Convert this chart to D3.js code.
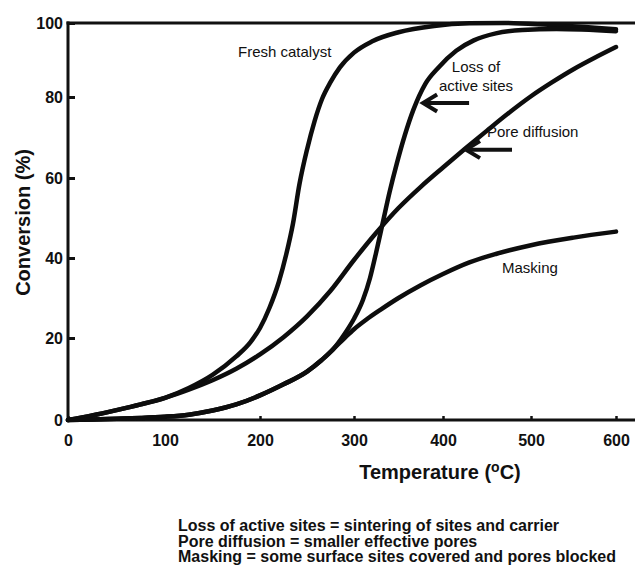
<!DOCTYPE html>
<html>
<head>
<meta charset="utf-8">
<script src="https://cdn.jsdelivr.net/npm/d3@7"></script>
<style>
  html, body { margin: 0; padding: 0; background: #fff; }
  svg { display: block; }
  text { font-family: "Liberation Sans", Arial, Helvetica, sans-serif; fill: #111; }
</style>
</head>
<body>
<svg id="chart" width="635" height="565"></svg>
<script>
// Axis ticks
const xTicks = [0, 100, 200, 300, 400, 500, 600];
const yTicks = [0, 20, 40, 60, 80, 100];

// Conversion (%) vs temperature (°C) for each catalyst state
const freshTemp = [0, 25, 50, 75, 100, 125, 150, 175, 190, 200, 210, 220, 228, 235, 242, 250, 258, 266, 275, 285, 300, 320, 350, 390, 430, 470, 520, 600];
const freshConv = [0, 1.1, 2.4, 3.8, 5.4, 7.8, 11, 15.5, 19, 22.5, 27.5, 34, 41, 48.5, 58.5, 67, 74, 79.5, 84, 88, 92, 95, 97.5, 99.2, 99.9, 100, 99.5, 98.3];

const lossTemp = [0, 25, 50, 75, 100, 125, 150, 175, 200, 225, 250, 265, 278, 290, 300, 310, 318, 325, 332, 340, 348, 357, 367, 380, 395, 415, 435, 460, 490, 530, 600];
const lossConv = [0, 0.1, 0.3, 0.5, 0.8, 1.3, 2.3, 3.8, 6, 8.7, 11.8, 14.5, 17.3, 21, 24.8, 29.5, 35, 41.5, 48.5, 56.5, 63.5, 70.5, 77, 83.5, 88, 92.5, 95.3, 97.2, 98.1, 98.4, 97.8];

const poreTemp = [0, 25, 50, 75, 100, 125, 150, 175, 200, 225, 250, 275, 300, 325, 350, 375, 400, 425, 450, 475, 500, 525, 550, 575, 600];
const poreConv = [0, 1.1, 2.4, 3.8, 5.4, 7.4, 9.7, 12.5, 16, 20.2, 25.4, 31.8, 39.5, 46.3, 52.5, 57.8, 62.6, 67.2, 71.7, 76.1, 80.2, 84, 87.5, 90.6, 93.5];

const maskTemp = [0, 25, 50, 75, 100, 125, 150, 175, 200, 225, 250, 265, 278, 290, 300, 315, 330, 350, 375, 400, 430, 460, 500, 550, 600];
const maskConv = [0, 0.1, 0.3, 0.5, 0.8, 1.3, 2.3, 3.8, 6, 8.7, 11.8, 14.5, 17.3, 20, 22.2, 24.8, 27.1, 30, 33.2, 36, 38.9, 41, 43.2, 45.1, 46.6];

const seriesNames = ["Fresh catalyst", "Loss of active sites", "Pore diffusion", "Masking"];

const notes = [
  "Loss of active sites = sintering of sites and carrier",
  "Pore diffusion = smaller effective pores",
  "Masking = some surface sites covered and pores blocked"
];

const series = [
  { name: seriesNames[0], temp: freshTemp, conv: freshConv },
  { name: seriesNames[1], temp: lossTemp, conv: lossConv },
  { name: seriesNames[2], temp: poreTemp, conv: poreConv },
  { name: seriesNames[3], temp: maskTemp, conv: maskConv }
];

const svg = d3.select("#chart");
const W = 635;

// The printed axes are slightly uneven, so the scales are piecewise linear through the ticks
const x = d3.scaleLinear().domain(xTicks).range([68, 165, 260, 354, 443, 531, 616]);
const y = d3.scaleLinear().domain(yTicks).range([420, 338, 258, 178, 97, 23]);

const x0 = x(0), y0 = y(0), yTop = y(100);

// Y axis with inward ticks
const yAxis = svg.append("g")
  .attr("transform", `translate(${x0},0)`)
  .call(d3.axisLeft(y).tickValues(yTicks).tickSizeInner(-7).tickSizeOuter(0).tickPadding(5).tickFormat(d3.format("d")));
yAxis.select(".domain").remove();
yAxis.selectAll(".tick line").attr("stroke", "#111").attr("stroke-width", 3);
yAxis.selectAll(".tick text")
  .attr("font-family", "Liberation Sans, Arial, sans-serif")
  .attr("font-size", 16).attr("font-weight", "bold").attr("fill", "#111");

// X axis with short inward ticks
const xAxis = svg.append("g")
  .attr("transform", `translate(0,${y0})`)
  .call(d3.axisBottom(x).tickValues(xTicks).tickSizeInner(-4).tickSizeOuter(0).tickPadding(15).tickFormat(d3.format("d")));
xAxis.select(".domain").remove();
xAxis.selectAll(".tick line").attr("stroke", "#111").attr("stroke-width", 2.5);
xAxis.selectAll(".tick text")
  .attr("font-family", "Liberation Sans, Arial, sans-serif")
  .attr("font-size", 16).attr("font-weight", "bold").attr("fill", "#111");

// Frame: left axis, bottom axis and top border running to the right edge
const frame = svg.append("g").attr("stroke", "#111").attr("stroke-width", 3).attr("fill", "none");
frame.append("line").attr("x1", x0).attr("x2", x0).attr("y1", yTop - 1.5).attr("y2", y0 + 1.5);
frame.append("line").attr("x1", x0 - 1.5).attr("x2", W).attr("y1", y0).attr("y2", y0);
frame.append("line").attr("x1", x0 - 1.5).attr("x2", W).attr("y1", yTop).attr("y2", yTop);

// Conversion curves
const line = d3.line()
  .x(d => x(d[0]))
  .y(d => y(d[1]))
  .curve(d3.curveMonotoneX);

svg.append("g")
  .selectAll("path")
  .data(series)
  .join("path")
  .attr("d", s => line(s.temp.map((t, i) => [t, s.conv[i]])))
  .attr("fill", "none")
  .attr("stroke", "#0d0d0d")
  .attr("stroke-width", 4.5)
  .attr("stroke-linecap", "round")
  .attr("stroke-linejoin", "round");

// Curve labels
const labelG = svg.append("g").attr("font-size", 15);
labelG.append("text").attr("x", 238).attr("y", 57).text(seriesNames[0]);
labelG.append("text").attr("x", 476).attr("y", 72).attr("text-anchor", "middle").text("Loss of");
labelG.append("text").attr("x", 476).attr("y", 91).attr("text-anchor", "middle").text("active sites");
labelG.append("text").attr("x", 487).attr("y", 137).text(seriesNames[2]);
labelG.append("text").attr("x", 502).attr("y", 273).text(seriesNames[3]);

// Arrows pointing at the curves (tip placed on the curve in data units)
const arrowTips = [
  { t: 376.5, c: 78.5 },
  { t: 425, c: 67 }
];
const arrowG = svg.append("g")
  .attr("stroke", "#111").attr("fill", "none")
  .attr("stroke-width", 4).attr("stroke-linejoin", "miter").attr("stroke-linecap", "butt");
arrowTips.forEach(a => {
  const px = x(a.t), py = y(a.c);
  arrowG.append("path").attr("d", `M${px + 2},${py} L${px + 47},${py}`);
  arrowG.append("path").attr("d", `M${px + 15},${py - 8.5} L${px + 1},${py} L${px + 15},${py + 8.5}`);
});

// Axis titles
svg.append("text")
  .attr("transform", `translate(30,${(y0 + yTop) / 2 + 1}) rotate(-90)`)
  .attr("text-anchor", "middle")
  .attr("font-size", 20).attr("font-weight", "bold")
  .text("Conversion (%)");

const xt = svg.append("text")
  .attr("x", 440).attr("y", 479)
  .attr("text-anchor", "middle")
  .attr("font-size", 20).attr("font-weight", "bold");
xt.append("tspan").text("Temperature (");
xt.append("tspan").attr("font-size", 14).attr("dy", -7).text("o");
xt.append("tspan").attr("dy", 7).text("C)");

// Footnote definitions
svg.append("g")
  .attr("font-size", 16).attr("font-weight", "bold")
  .selectAll("text")
  .data(notes)
  .join("text")
  .attr("x", 178)
  .attr("y", (d, i) => 531 + i * 15.5)
  .text(d => d);
</script>
</body>
</html>
